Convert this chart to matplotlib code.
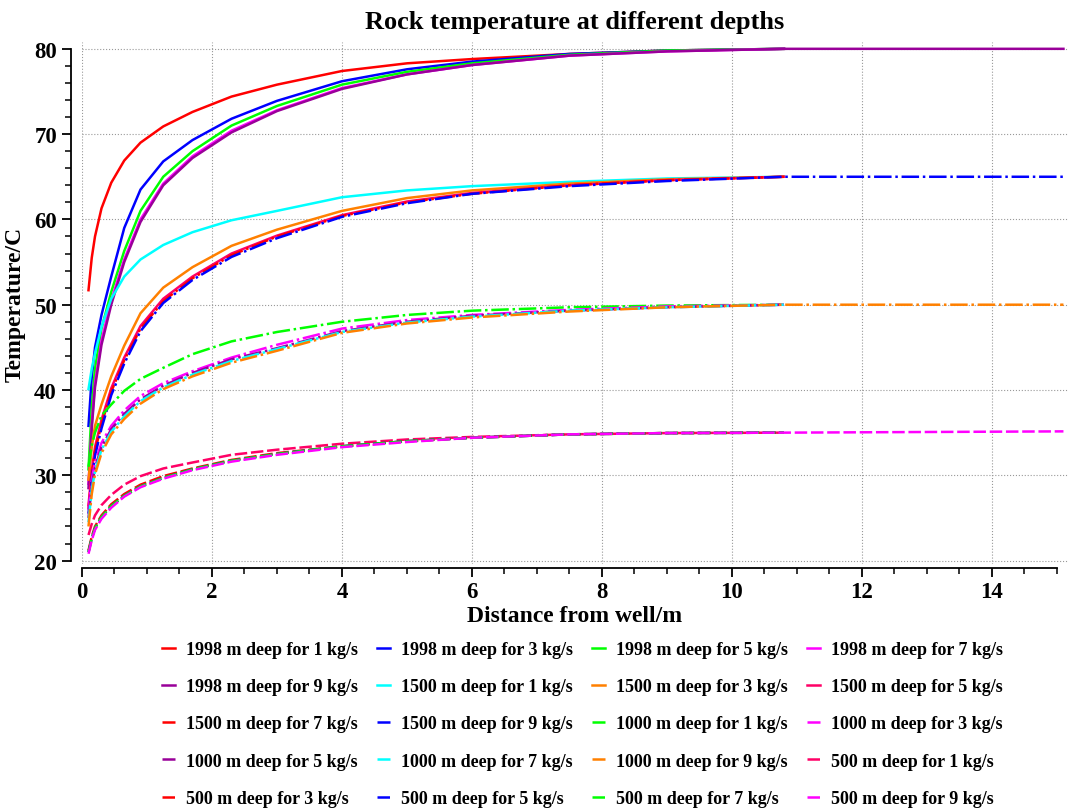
import numpy as np
import matplotlib
matplotlib.use("Agg")
import matplotlib.pyplot as plt
from matplotlib.ticker import MultipleLocator

plt.rcParams['font.family'] = ['Liberation Serif', 'DejaVu Serif']
plt.rcParams['font.weight'] = 'bold'

# distance from well (m)
dist = [0.1, 0.15, 0.2, 0.3, 0.45, 0.65, 0.9, 1.25, 1.7, 2.3, 3.0, 4.0, 5.0, 6.0, 7.5, 9.0, 10.8, 15.1]
nan = np.nan

# rock temperature (C)
t1998_1 = [51.7, 55.5, 58.0, 61.3, 64.3, 66.9, 69.0, 70.9, 72.6, 74.4, 75.8, 77.4, 78.3, 78.8, 79.4, 79.8, 80.0, nan]
t1998_3 = [35.8, 41.5, 45.0, 48.8, 53.3, 59.0, 63.5, 66.8, 69.3, 71.8, 73.9, 76.2, 77.6, 78.5, 79.4, 79.8, 80.0, nan]
t1998_5 = [30.7, 38.0, 42.5, 47.2, 51.5, 56.3, 61.0, 65.0, 68.0, 71.0, 73.3, 75.8, 77.3, 78.3, 79.3, 79.8, 80.0, nan]
t1998_7 = [29.0, 36.0, 40.8, 45.8, 50.5, 55.3, 60.0, 64.2, 67.4, 70.4, 72.8, 75.4, 77.0, 78.1, 79.2, 79.7, 80.0, nan]
t1998_9 = [28.5, 35.5, 40.3, 45.3, 50.0, 55.0, 59.7, 64.0, 67.2, 70.2, 72.7, 75.3, 77.0, 78.1, 79.2, 79.7, 80.0, 80.0]
t1500_1 = [40.1, 42.5, 44.3, 47.4, 50.7, 53.3, 55.3, 57.0, 58.5, 59.9, 61.0, 62.6, 63.4, 63.9, 64.4, 64.8, 65.0, nan]
t1500_3 = [29.5, 33.3, 35.8, 38.3, 41.6, 45.2, 49.0, 52.0, 54.4, 56.9, 58.8, 61.0, 62.5, 63.4, 64.2, 64.7, 65.0, nan]
t1500_5 = [26.5, 30.5, 33.3, 36.5, 40.2, 43.8, 47.5, 50.7, 53.3, 56.0, 58.1, 60.5, 62.1, 63.1, 64.0, 64.6, 65.0, nan]
t1500_7 = [26.0, 30.0, 32.8, 36.0, 39.8, 43.5, 47.2, 50.4, 53.1, 55.8, 58.0, 60.4, 62.0, 63.0, 64.0, 64.6, 65.0, nan]
t1500_9 = [25.5, 29.5, 32.3, 35.5, 39.4, 43.1, 46.9, 50.2, 52.9, 55.6, 57.8, 60.3, 61.9, 63.0, 63.9, 64.5, 65.0, 65.0]
t1000_1 = [31.0, 33.5, 35.0, 37.0, 38.3, 39.9, 41.3, 42.6, 44.2, 45.7, 46.8, 48.0, 48.8, 49.3, 49.7, 49.9, 50.0, nan]
t1000_3 = [26.0, 29.5, 31.5, 33.8, 35.8, 37.6, 39.3, 40.8, 42.2, 43.8, 45.3, 47.2, 48.2, 48.8, 49.4, 49.8, 50.0, nan]
t1000_5 = [25.0, 28.8, 30.9, 33.3, 35.4, 37.2, 38.9, 40.5, 42.0, 43.6, 44.9, 46.9, 48.0, 48.7, 49.3, 49.7, 50.0, nan]
t1000_7 = [24.5, 28.3, 30.5, 33.0, 35.1, 36.9, 38.7, 40.3, 41.8, 43.4, 44.8, 46.8, 47.9, 48.6, 49.3, 49.7, 50.0, nan]
t1000_9 = [24.0, 27.8, 30.1, 32.6, 34.8, 36.6, 38.4, 40.1, 41.6, 43.2, 44.6, 46.7, 47.8, 48.5, 49.2, 49.7, 50.0, 50.0]
t500_1 = [23.0, 24.3, 25.3, 26.5, 27.7, 28.9, 29.9, 30.8, 31.5, 32.4, 33.0, 33.7, 34.2, 34.5, 34.8, 34.95, 35.0, nan]
t500_3 = [21.2, 22.8, 24.0, 25.3, 26.6, 27.8, 28.9, 29.9, 30.8, 31.8, 32.6, 33.4, 34.0, 34.4, 34.8, 34.95, 35.0, nan]
t500_5 = [21.0, 22.6, 23.8, 25.1, 26.4, 27.6, 28.7, 29.7, 30.7, 31.7, 32.5, 33.4, 34.0, 34.4, 34.8, 34.95, 35.0, nan]
t500_7 = [21.0, 22.6, 23.8, 25.1, 26.4, 27.6, 28.7, 29.7, 30.7, 31.7, 32.5, 33.4, 34.0, 34.4, 34.8, 34.95, 35.0, nan]
t500_9 = [20.8, 22.4, 23.6, 24.9, 26.2, 27.5, 28.6, 29.6, 30.6, 31.6, 32.4, 33.3, 33.9, 34.4, 34.8, 34.95, 35.0, 35.15]

series = [t1998_1, t1998_3, t1998_5, t1998_7, t1998_9,
          t1500_1, t1500_3, t1500_5, t1500_7, t1500_9,
          t1000_1, t1000_3, t1000_5, t1000_7, t1000_9,
          t500_1, t500_3, t500_5, t500_7, t500_9]
depths = [1998] * 5 + [1500] * 5 + [1000] * 5 + [500] * 5
flows = [1, 3, 5, 7, 9] * 4
labels = ["%d m deep for %d kg/s" % (d, f) for d, f in zip(depths, flows)]

cols = ['#FF0000', '#0000FF', '#00FF00', '#FF00FF', '#990099', '#00FFFF', '#FF8000', '#FF0066']
solid = '-'
dashdot = (0, (7, 1.5, 1, 1.5))
dashed = (0, (5, 1.5))
styles = [solid] * 8 + [dashdot] * 7 + [dashed] * 5

fig = plt.figure(figsize=(10.76, 8.12), dpi=100)
ax = fig.add_axes([82 / 1076, 1 - 565 / 812, 986 / 1076, 522 / 812])

handles = []
for i, t in enumerate(series):
    h, = ax.plot(dist, t, color=cols[i % 8], linestyle=styles[i], lw=1.8, label=labels[i])
    handles.append(h)

ax.set_xlim(0, 15.17)
ax.set_ylim(19.6, 80.8)
ax.xaxis.set_major_locator(MultipleLocator(2))
ax.xaxis.set_minor_locator(MultipleLocator(0.5))
ax.yaxis.set_major_locator(MultipleLocator(10))
ax.yaxis.set_minor_locator(MultipleLocator(2))
ax.grid(True, which='major', color='#999999', linestyle=':', linewidth=0.8)

for s in ['top', 'right']:
    ax.spines[s].set_visible(False)
ax.spines['left'].set_position(('outward', 8))
ax.spines['bottom'].set_position(('outward', 3))
ax.spines['left'].set_bounds(20, 80)
ax.spines['bottom'].set_bounds(0, 15)
ax.spines['left'].set_linewidth(1.3)
ax.spines['bottom'].set_linewidth(1.3)
ax.tick_params(which='major', length=6.5, width=1.3, labelsize=16.5)
ax.tick_params(axis='x', which='major', pad=3)
ax.tick_params(which='minor', length=4, width=1.1)

ax.set_xlabel("Distance from well/m", fontsize=17, fontweight='bold', labelpad=2)
ax.set_ylabel("Temperature/C", fontsize=17, fontweight='bold', labelpad=6)
ax.set_title("Rock temperature at different depths", fontsize=19, fontweight='bold', pad=10)

# legend fills row by row in the original
order = [r * 4 + c for c in range(4) for r in range(5)]
fig.legend([handles[k] for k in order], [labels[k] for k in order],
           loc='upper left', bbox_to_anchor=(153 / 1076, 1 - 633 / 812),
           ncol=4, frameon=False, borderpad=0,
           handlelength=0.72, handletextpad=0.6, columnspacing=1.06,
           labelspacing=1.12, prop={'weight': 'bold', 'size': 13})

fig.savefig("out.png", dpi=100)
